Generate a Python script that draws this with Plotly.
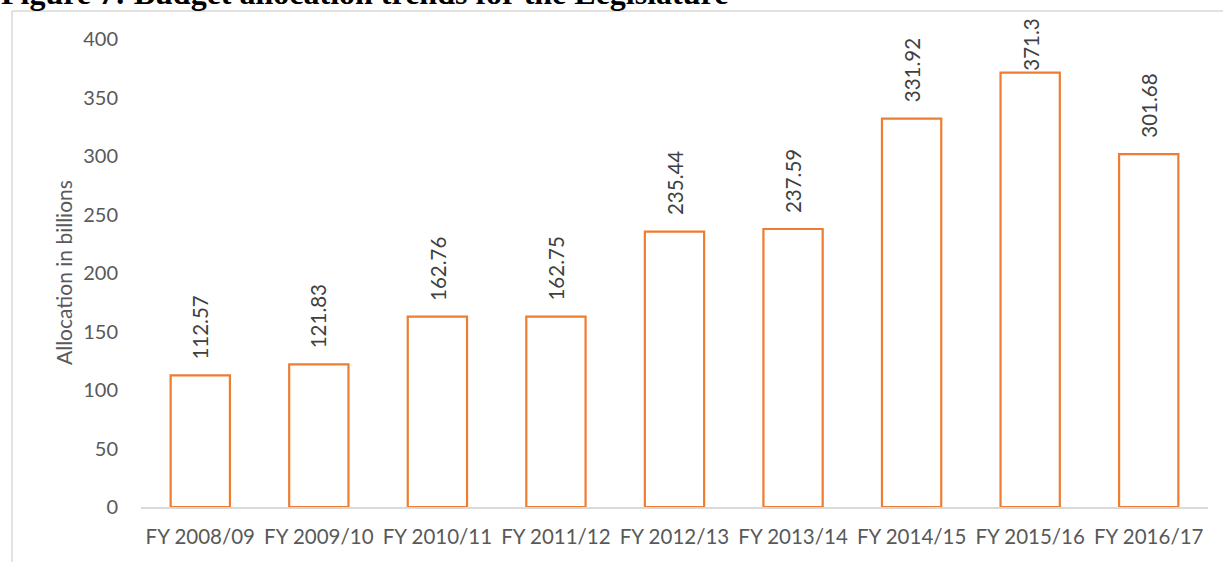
import plotly.graph_objects as go

categories = ["FY 2008/09", "FY 2009/10", "FY 2010/11", "FY 2011/12", "FY 2012/13",
              "FY 2013/14", "FY 2014/15", "FY 2015/16", "FY 2016/17"]
values = [112.57, 121.83, 162.76, 162.75, 235.44, 237.59, 331.92, 371.3, 301.68]
labels = ["112.57", "121.83", "162.76", "162.75", "235.44", "237.59", "331.92", "371.3", "301.68"]
y_ticks = [0, 50, 100, 150, 200, 250, 300, 350, 400]

W, H = 1223, 562
L, R, T, B = 141, 15, 39, 55
PW, PH = W - L - R, H - T - B
YMAX = 400

def px_x(px):
    return (px - L) / PW

def px_y(py):
    return (H - B - py) / PH

FONT = "Lato, 'Open Sans', sans-serif"

fig = go.Figure(go.Bar(
    x=categories, y=values,
    marker=dict(color="white", line=dict(color="#ED7D31", width=2.2)),
    width=0.5,
))

annotations = []
for c, v, t in zip(categories, values, labels):
    bar_top_px = T + (YMAX - v) / YMAX * PH
    label_len = len(t) * 11.6
    shift = min(14, max(0, bar_top_px - 18 - label_len))
    annotations.append(dict(
        x=c, y=v, xref="x", yref="y", text=t, showarrow=False,
        textangle=-90, yanchor="bottom", yshift=shift,
        font=dict(family=FONT, size=20.5, color="#404040"),
    ))

annotations.append(dict(
    x=px_x(63), y=0.5, xref="paper", yref="paper", text="Allocation in billions",
    showarrow=False, textangle=-90, xanchor="center", yanchor="middle",
    font=dict(family=FONT, size=21, color="#595959"),
))
annotations.append(dict(
    x=px_x(-1), y=px_y(13), xref="paper", yref="paper",
    text="<b>Figure 7: Budget allocation trends for the Legislature</b>",
    showarrow=False, xanchor="left", yanchor="bottom",
    font=dict(family="Liberation Serif, Times New Roman, serif", size=32, color="black"),
))

shapes = [
    dict(type="line", xref="paper", yref="paper", x0=px_x(12), x1=px_x(12),
         y0=px_y(H + 5), y1=px_y(11), line=dict(color="#D9D9D9", width=1.5)),
    dict(type="line", xref="paper", yref="paper", x0=px_x(12), x1=px_x(W + 5),
         y0=px_y(11), y1=px_y(11), line=dict(color="#D9D9D9", width=1.5)),
]

fig.update_layout(
    width=W, height=H,
    margin=dict(l=L, r=R, t=T, b=B),
    paper_bgcolor="white", plot_bgcolor="white",
    showlegend=False,
    annotations=annotations, shapes=shapes,
    bargap=0.5,
)
fig.update_xaxes(
    showline=True, linecolor="#D9D9D9", linewidth=2, ticks="",
    tickfont=dict(family=FONT, size=20.5, color="#595959"),
    ticklabelstandoff=10, showgrid=False,
)
fig.update_yaxes(
    range=[0, YMAX], tickvals=y_ticks, showgrid=False, zeroline=False,
    showline=False, ticks="",
    tickfont=dict(family=FONT, size=20, color="#595959"),
    ticklabelstandoff=22,
)

fig.write_html("out.html", config={"displayModeBar": False},
               post_script="document.body.style.margin='0px';")
